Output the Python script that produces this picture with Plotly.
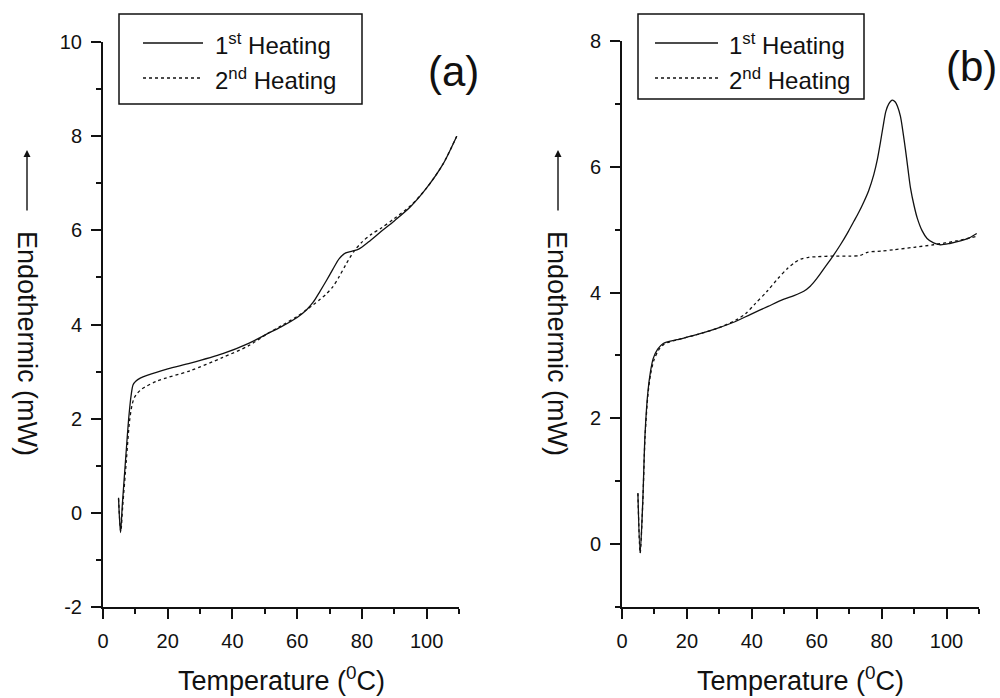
import plotly.graph_objects as go

# ---------------- data ----------------
# Panel (a)
a1_T = [4.8, 5.4, 6.0, 7.0, 8.0, 8.7, 9.3, 10.2, 11.5, 13.6, 20, 27, 37, 45, 50.7, 55, 60, 63, 65, 67,
        69, 71, 73, 75, 77, 79, 82, 86, 90, 95, 100, 105, 109.3]
a1_y = [0.32, -0.42, 0.2, 1.15, 2.05, 2.5, 2.72, 2.8, 2.86, 2.92, 3.06, 3.18, 3.38, 3.6, 3.8, 3.95, 4.15,
        4.32, 4.48, 4.7, 4.93, 5.17, 5.4, 5.52, 5.56, 5.6, 5.75, 5.98, 6.2, 6.5, 6.9, 7.4, 8.0]

a2_T = [4.8, 5.5, 6.1, 7.2, 8.2, 9.0, 9.7, 10.5, 12, 16.7, 27, 37, 45, 50.7, 55, 60, 63, 65, 67, 69,
        71, 73, 75, 77.5, 80, 83, 86, 90, 95, 100, 105, 109.3]
a2_y = [0.3, -0.4, 0.15, 1.1, 1.95, 2.3, 2.45, 2.53, 2.63, 2.8, 3.02, 3.3, 3.55, 3.8, 3.97, 4.17, 4.32,
        4.42, 4.53, 4.65, 4.8, 5.02, 5.27, 5.55, 5.75, 5.92, 6.05, 6.25, 6.52, 6.9, 7.4, 8.0]

# Panel (b)
b1_T = [4.9, 5.6, 6.4, 7.1, 8.0, 8.8, 9.6, 11, 12.7, 16.9, 23, 29.3, 35, 39.5, 45, 49.7, 53, 56, 58, 60,
        62.5, 65, 67.3, 69.5, 71.4, 73, 74.5, 76, 77.6, 78.7, 79.6, 80.5, 81.3, 82.2, 83.3, 84.2, 84.9,
        85.8, 86.5, 87.3, 88.1, 88.9, 90, 91, 92.5, 94, 96, 98.1, 101, 104.3, 107, 109.3]
b1_y = [0.81, -0.14, 0.68, 1.75, 2.43, 2.75, 2.95, 3.1, 3.19, 3.25, 3.33, 3.43, 3.54, 3.65, 3.78, 3.89,
        3.95, 4.02, 4.1, 4.22, 4.4, 4.58, 4.76, 4.95, 5.13, 5.28, 5.44, 5.62, 5.88, 6.12, 6.38, 6.66,
        6.88, 7.0, 7.06, 7.03, 6.96, 6.8, 6.58, 6.29, 5.97, 5.66, 5.38, 5.18, 4.98, 4.86, 4.79, 4.76,
        4.78, 4.82, 4.87, 4.94]

b2_T = [4.9, 5.6, 6.4, 7.1, 8.0, 8.8, 9.8, 11.2, 13, 17, 23, 29.3, 35, 38, 41, 44.7, 48, 50.9, 53, 55,
        57.5, 60, 65, 70, 73.4, 75.6, 80, 83.7, 90, 96, 103, 109]
b2_y = [0.81, -0.14, 0.65, 1.7, 2.38, 2.7, 2.92, 3.08, 3.18, 3.25, 3.33, 3.43, 3.56, 3.66, 3.82, 4.02,
        4.22, 4.38, 4.47, 4.53, 4.56, 4.57, 4.58, 4.58, 4.59, 4.64, 4.66, 4.68, 4.72, 4.76, 4.82, 4.89]

x_ticks = [0, 20, 40, 60, 80, 100]
ya_ticks = [-2, 0, 2, 4, 6, 8, 10]
yb_ticks = [0, 2, 4, 6, 8]

series_names = ["1<sup>st</sup> Heating", "2<sup>nd</sup> Heating"]
panel_labels = ["(a)", "(b)"]
x_title = "Temperature (<sup>0</sup>C)"
y_title = "Endothermic (mW)"

# ---------------- figure ----------------
W, H = 1000, 698
FONT = "Liberation Sans, Arial, Helvetica, sans-serif"
INK = "#111111"

fig = go.Figure()
line_solid = dict(color=INK, width=1.3, shape="spline", smoothing=0.8)
line_dot = dict(color=INK, width=1.3, dash="dot", shape="spline", smoothing=0.8)

fig.add_trace(go.Scatter(x=a1_T, y=a1_y, mode="lines", line=line_solid, name="1st Heating",
                         xaxis="x", yaxis="y", showlegend=False))
fig.add_trace(go.Scatter(x=a2_T, y=a2_y, mode="lines", line=line_dot, name="2nd Heating",
                         xaxis="x", yaxis="y", showlegend=False))
fig.add_trace(go.Scatter(x=b1_T, y=b1_y, mode="lines", line=line_solid, name="1st Heating",
                         xaxis="x2", yaxis="y2", showlegend=False))
fig.add_trace(go.Scatter(x=b2_T, y=b2_y, mode="lines", line=line_dot, name="2nd Heating",
                         xaxis="x2", yaxis="y2", showlegend=False))


def px_x(p):
    return p / W


def px_y(p):
    return 1 - p / H


def tick_arr(vals):
    return dict(tickmode="array", tickvals=vals, ticktext=[str(v) for v in vals])


axis_common = dict(
    showline=True, linecolor=INK, linewidth=2, showgrid=False, zeroline=False,
    ticks="outside", ticklen=10, tickwidth=1.5, tickcolor=INK,
    tickfont=dict(family=FONT, size=20, color=INK), ticklabelstandoff=5,
    mirror=False, automargin=False,
)

fig.update_layout(
    template="none",
    width=W, height=H, margin=dict(l=0, r=0, t=0, b=0, autoexpand=False),
    paper_bgcolor="white", plot_bgcolor="white",
    font=dict(family=FONT, color=INK),
    xaxis=dict(domain=[px_x(103), px_x(459)], range=[0, 110], anchor="y", **tick_arr(x_ticks),
               minor=dict(ticks="outside", ticklen=5, dtick=10, tick0=0, tickwidth=1.5, tickcolor=INK),
               **axis_common),
    yaxis=dict(domain=[px_y(607), px_y(42)], range=[-2, 10], anchor="x", **tick_arr(ya_ticks),
               minor=dict(ticks="outside", ticklen=5, dtick=1, tick0=0, tickwidth=1.5, tickcolor=INK),
               **axis_common),
    xaxis2=dict(domain=[px_x(622), px_x(979)], range=[0, 110], anchor="y2", **tick_arr(x_ticks),
                minor=dict(ticks="outside", ticklen=5, dtick=10, tick0=0, tickwidth=1.5, tickcolor=INK),
                **axis_common),
    yaxis2=dict(domain=[px_y(607), px_y(41)], range=[-1, 8], anchor="x2", **tick_arr(yb_ticks),
                minor=dict(ticks="outside", ticklen=5, dtick=1, tick0=0, tickwidth=1.5, tickcolor=INK),
                **axis_common),
    showlegend=False,
)

annotations = []
shapes = []

# axis titles
for cx in (281, 800):
    annotations.append(dict(text=x_title, x=px_x(cx), y=px_y(679), xref="paper", yref="paper",
                            showarrow=False, font=dict(family=FONT, size=27, color=INK),
                            xanchor="center", yanchor="middle"))
for cx, ax_x in ((27, 27), (557, 558)):
    annotations.append(dict(text=y_title, x=px_x(cx), y=px_y(343), xref="paper", yref="paper",
                            showarrow=False, textangle=90, font=dict(family=FONT, size=27, color=INK),
                            xanchor="center", yanchor="middle"))
    # upward arrow above the title
    annotations.append(dict(text="", x=px_x(ax_x), y=px_y(150), xref="paper", yref="paper",
                            showarrow=True, ax=0, ay=62, axref="pixel", ayref="pixel",
                            arrowhead=2, arrowsize=1.0, arrowwidth=1.4, arrowcolor=INK))

# panel labels
for lbl, cx, cy in ((panel_labels[0], 453, 71), (panel_labels[1], 971, 66)):
    annotations.append(dict(text=lbl, x=px_x(cx), y=px_y(cy), xref="paper", yref="paper",
                            showarrow=False, font=dict(family=FONT, size=42, color=INK),
                            xanchor="center", yanchor="middle"))

# legends (box + sample lines + text)
legend_boxes = [
    dict(x0=119, x1=362, y0=14, y1=104, lx0=143, lx1=203, tx=213),
    dict(x0=638, x1=864, y0=14, y1=99, lx0=655, lx1=718, tx=727),
]
row_y = [43, 78]
dashes = ["solid", "dot"]
for lb in legend_boxes:
    shapes.append(dict(type="rect", xref="paper", yref="paper",
                       x0=px_x(lb["x0"]), x1=px_x(lb["x1"]), y0=px_y(lb["y1"]), y1=px_y(lb["y0"]),
                       line=dict(color=INK, width=1.5), fillcolor="rgba(0,0,0,0)"))
    for i, ry in enumerate(row_y):
        shapes.append(dict(type="line", xref="paper", yref="paper",
                           x0=px_x(lb["lx0"]), x1=px_x(lb["lx1"]), y0=px_y(ry), y1=px_y(ry),
                           line=dict(color=INK, width=1.3, dash=dashes[i])))
        annotations.append(dict(text=series_names[i], x=px_x(lb["tx"]), y=px_y(ry + 1), xref="paper",
                                yref="paper", showarrow=False, xanchor="left", yanchor="middle",
                                font=dict(family=FONT, size=24, color=INK)))

fig.update_layout(annotations=annotations, shapes=shapes)
fig.write_html(
    "out.html",
    config={"displayModeBar": False},
    post_script="document.body.style.margin='0';document.body.style.padding='0';"
                "document.documentElement.style.overflow='hidden';",
)
